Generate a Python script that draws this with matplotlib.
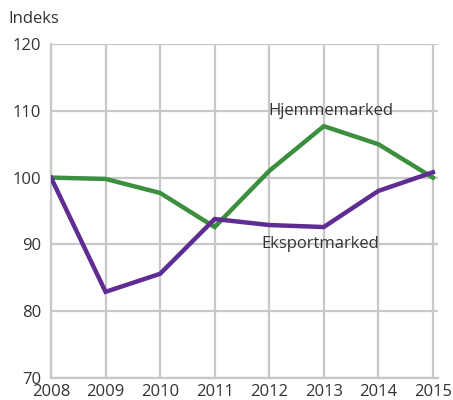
import matplotlib
matplotlib.use("Agg")
import matplotlib.pyplot as plt

years = [2008, 2009, 2010, 2011, 2012, 2013, 2014, 2015]
hjemmemarked = [100, 99.8, 97.7, 92.6, 101.0, 107.7, 105.0, 100.0]
eksportmarked = [100, 82.9, 85.6, 93.8, 92.9, 92.6, 98.0, 100.8]
yticks = [70, 80, 90, 100, 110, 120]

GREEN = "#3b8f3e"
PURPLE = "#5e2c92"
GRID = "#c8c8c8"
TXT = "#333333"

plt.rcParams["font.family"] = ["Open Sans", "DejaVu Sans"]

fig = plt.figure(figsize=(4.53, 4.0), dpi=100)
ax = fig.add_axes([0.1126, 0.055, 0.855, 0.835])

ax.plot(years, hjemmemarked, color=GREEN, lw=3.2, solid_joinstyle="miter", zorder=3)
ax.plot(years, eksportmarked, color=PURPLE, lw=3.2, solid_joinstyle="miter", zorder=3)

ax.set_xlim(2008, 2015.1)
ax.set_ylim(70, 120)
ax.set_xticks(years)
ax.set_yticks(yticks)
ax.grid(True, color=GRID, lw=1.6)
ax.set_axisbelow(True)
for s in ["top", "right"]:
    ax.spines[s].set_visible(False)
for s in ["left", "bottom"]:
    ax.spines[s].set_color(GRID)
    ax.spines[s].set_linewidth(1.6)
ax.tick_params(length=0, labelsize=12, labelcolor=TXT)
ax.tick_params(axis="y", pad=7)
ax.tick_params(axis="x", pad=4)

ax.text(2013.13, 110, "Hjemmemarked", fontsize=12, color=TXT, ha="center", va="center")
ax.text(2012.93, 90, "Eksportmarked", fontsize=12, color=TXT, ha="center", va="center")
fig.text(8 / 453, 1 - 19 / 400, "Indeks", fontsize=12, color=TXT, ha="left", va="center")

fig.savefig("out.png", dpi=100)
